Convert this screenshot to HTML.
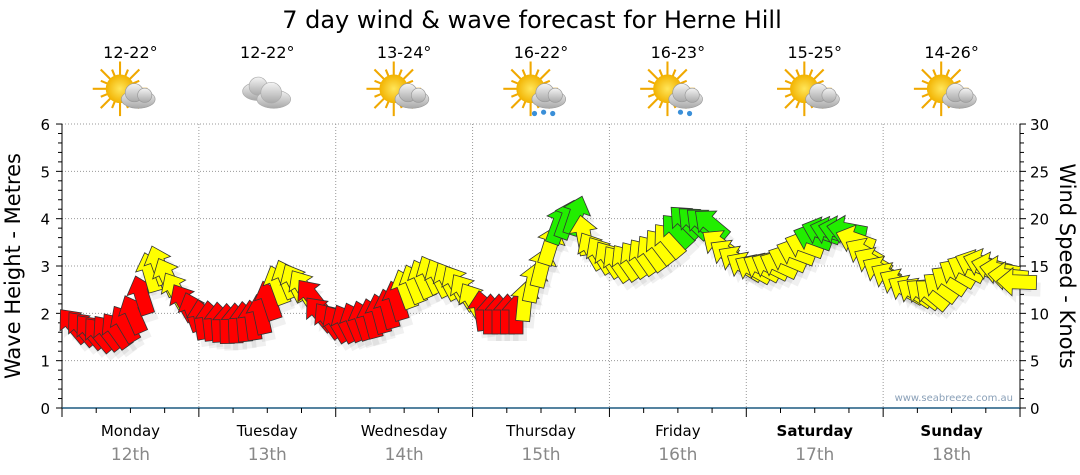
<!DOCTYPE html>
<html><head><meta charset="utf-8"><style>
body{margin:0;background:#fff;font-family:"DejaVu Sans","Liberation Sans",sans-serif;}
svg{display:block}
</style></head><body>
<svg id="s" width="1080" height="475" xmlns="http://www.w3.org/2000/svg" font-family="DejaVu Sans, Liberation Sans, sans-serif">
<defs>
<radialGradient id="sun" cx="50%" cy="50%" r="50%"><stop offset="0" stop-color="#ffe65a"/><stop offset="1" stop-color="#f2b200"/></radialGradient>
<linearGradient id="cl" x1="0" y1="0" x2="0" y2="1"><stop offset="0" stop-color="#f4f4f4"/><stop offset="1" stop-color="#a8a8a8"/></linearGradient>
</defs>
<text x="532" y="28" font-size="24" text-anchor="middle" fill="#000">7 day wind &amp; wave forecast for Herne Hill</text>
<g id="g"></g>
</svg>
<script>
var g=document.getElementById('g'),h='';
var X0=62,X1=1020,Y0=408,pm=47.33,dw=136.86;
for(var i=1;i<=6;i++){var y=Y0-i*pm;h+='<line x1="'+X0+'" x2="'+X1+'" y1="'+y+'" y2="'+y+'" stroke="#999" stroke-dasharray="1,2"/>';}
for(var d=1;d<7;d++){var x=X0+d*dw;h+='<line x1="'+x+'" x2="'+x+'" y1="124" y2="'+Y0+'" stroke="#999" stroke-dasharray="1,2"/>';}
h+='<line x1="'+X0+'" x2="'+X0+'" y1="124" y2="'+Y0+'" stroke="#000"/>';
h+='<line x1="'+X1+'" x2="'+X1+'" y1="124" y2="'+Y0+'" stroke="#000"/>';
h+='<line x1="'+X0+'" x2="'+X1+'" y1="'+Y0+'" y2="'+Y0+'" stroke="#1d5a80" stroke-width="1.5"/>';
for(var i=0;i<=30;i++){var y=Y0-i*pm/5;var L=(i%5==0)?6:4;h+='<line x1="'+(X0-L)+'" x2="'+X0+'" y1="'+y+'" y2="'+y+'" stroke="#000"/>';h+='<line x1="'+X1+'" x2="'+(X1+L)+'" y1="'+y+'" y2="'+y+'" stroke="#000"/>';}
for(var i=0;i<=6;i++){h+='<text x="50" y="'+(Y0-i*pm+6)+'" font-size="15" text-anchor="end">'+i+'</text>';}
for(var i=0;i<=6;i++){h+='<text x="1030" y="'+(Y0-i*pm+6)+'" font-size="15">'+(i*5)+'</text>';}
for(var i=0;i<=28;i++){var x=X0+i*dw/4;var L=(i%4==0)?9:5;h+='<line x1="'+x+'" x2="'+x+'" y1="'+Y0+'" y2="'+(Y0+L)+'" stroke="#000"/>';}
var days=['Monday','Tuesday','Wednesday','Thursday','Friday','Saturday','Sunday'];
var temps=['12-22°','12-22°','13-24°','16-22°','16-23°','15-25°','14-26°'];
for(var d=0;d<7;d++){var cx=X0+(d+0.5)*dw;var b=d>=5?' font-weight="bold"':'';
h+='<text x="'+cx+'" y="436" font-size="15" text-anchor="middle"'+b+'>'+days[d]+'</text>';
h+='<text x="'+cx+'" y="460" font-size="17" fill="#888" text-anchor="middle">'+(12+d)+'th</text>';
h+='<text x="'+cx+'" y="58" font-size="16" text-anchor="middle">'+temps[d]+'</text>';
h+='<g transform="translate('+cx+',94) scale(1.3)">';
var ix=0,iy=0;
if(d!=1){var r='';for(var k=0;k<16;k++){var a=k*Math.PI/8;r+='<line x1="'+(ix-8+Math.cos(a)*10)+'" y1="'+(iy-4+Math.sin(a)*10)+'" x2="'+(ix-8+Math.cos(a)*(k%2?16:21))+'" y2="'+(iy-4+Math.sin(a)*(k%2?16:21))+'" stroke="#f0a800" stroke-width="1.6"/>';}
h+=r+'<circle cx="'+(ix-8)+'" cy="'+(iy-4)+'" r="11" fill="url(#sun)"/>';
h+='<g fill="url(#cl)" stroke="#999" stroke-width="0.5"><ellipse cx="'+(ix+6)+'" cy="'+(iy+4)+'" rx="13" ry="7"/><circle cx="'+(ix+3)+'" cy="'+(iy-1)+'" r="7"/><circle cx="'+(ix+11)+'" cy="'+(iy+1)+'" r="5.5"/></g>';
if(d==3||d==4){h+='<g fill="#3a8fd8"><circle cx="'+(ix+2)+'" cy="'+(iy+14)+'" r="2"/><circle cx="'+(ix+9)+'" cy="'+(iy+15)+'" r="2"/>'+(d==3?'<circle cx="'+(ix-5)+'" cy="'+(iy+15)+'" r="2"/>':'')+'</g>';}
}else{h+='<g fill="url(#cl)" stroke="#aaa" stroke-width="0.5"><ellipse cx="'+(ix-7)+'" cy="'+(iy-2)+'" rx="12" ry="7"/><circle cx="'+(ix-7)+'" cy="'+(iy-6)+'" r="7"/><ellipse cx="'+(ix+5)+'" cy="'+(iy+4)+'" rx="13" ry="7"/><circle cx="'+(ix+3)+'" cy="'+(iy-1)+'" r="8"/></g>';}
h+='</g>';
}
h+='<text transform="translate(20,266) rotate(-90)" font-size="21" text-anchor="middle">Wave Height - Metres</text>';
h+='<text transform="translate(1060,266) rotate(90)" font-size="21" text-anchor="middle">Wind Speed - Knots</text>';
h+='<text x="1013" y="401" font-size="10" fill="#8aa0b8" text-anchor="end">www.seabreeze.com.au</text>';
var P=[[72,325,-40,'r'],[100,335,-40,'r'],[120,330,-35,'r'],[138,310,-20,'r'],[148,275,-15,'y'],[160,265,-20,'y'],[175,290,-30,'y'],[186,305,-30,'r'],[200,320,-10,'r'],[230,325,0,'r'],[258,320,-10,'r'],[272,297,-20,'r'],[282,278,-20,'y'],[300,285,-30,'y'],[315,300,-40,'r'],[322,318,-40,'r'],[340,325,-30,'r'],[370,320,-15,'r'],[393,307,-15,'r'],[405,290,-20,'y'],[430,275,-25,'y'],[458,285,-30,'y'],[472,300,-35,'y'],[485,315,0,'r'],[520,315,0,'r'],[528,292,10,'y'],[545,262,15,'y'],[556,227,20,'g'],[575,215,20,'g'],[590,250,-30,'y'],[620,265,-35,'y'],[650,255,-35,'y'],[670,240,-40,'y'],[685,222,-45,'g'],[712,225,-50,'g'],[722,250,-55,'y'],[750,270,-60,'y'],[780,265,-65,'y'],[800,250,-70,'y'],[820,232,-70,'g'],[850,230,-80,'g'],[862,250,-60,'y'],[880,270,-60,'y'],[910,292,-60,'y'],[932,295,-50,'y'],[960,272,-60,'y'],[980,262,-70,'y'],[1000,270,-80,'y'],[1022,285,-90,'y']];
var C={r:'#ff0000',y:'#ffff00',g:'#22ee00'};
function at(x){for(var i=0;i<P.length-1;i++){if(x<=P[i+1][0]){var t=(x-P[i][0])/(P[i+1][0]-P[i][0]);return [P[i][1]+t*(P[i+1][1]-P[i][1]),P[i][2]+t*(P[i+1][2]-P[i][2]),t<0.5?P[i][3]:P[i+1][3]];}}return [P[P.length-1][1],P[P.length-1][2],'y'];}
var sh='',ar='';
for(var x=74;x<=1024;x+=8.5){var v=at(x);var y=v[0],a=v[1];
var pts='0,-21 14,-5 7,-5 7,19 -7,19 -7,-5 -14,-5';
sh+='<polygon points="'+pts+'" transform="translate('+(x+4)+','+(y+7)+') rotate('+a+')" fill="#000" opacity="0.06"/>';
ar+='<polygon points="'+pts+'" transform="translate('+x+','+y+') rotate('+a+')" fill="'+C[v[2]]+'" stroke="#333" stroke-width="0.8"/>';}
h+=sh+ar;
g.innerHTML=h;
</script>
</body></html>
